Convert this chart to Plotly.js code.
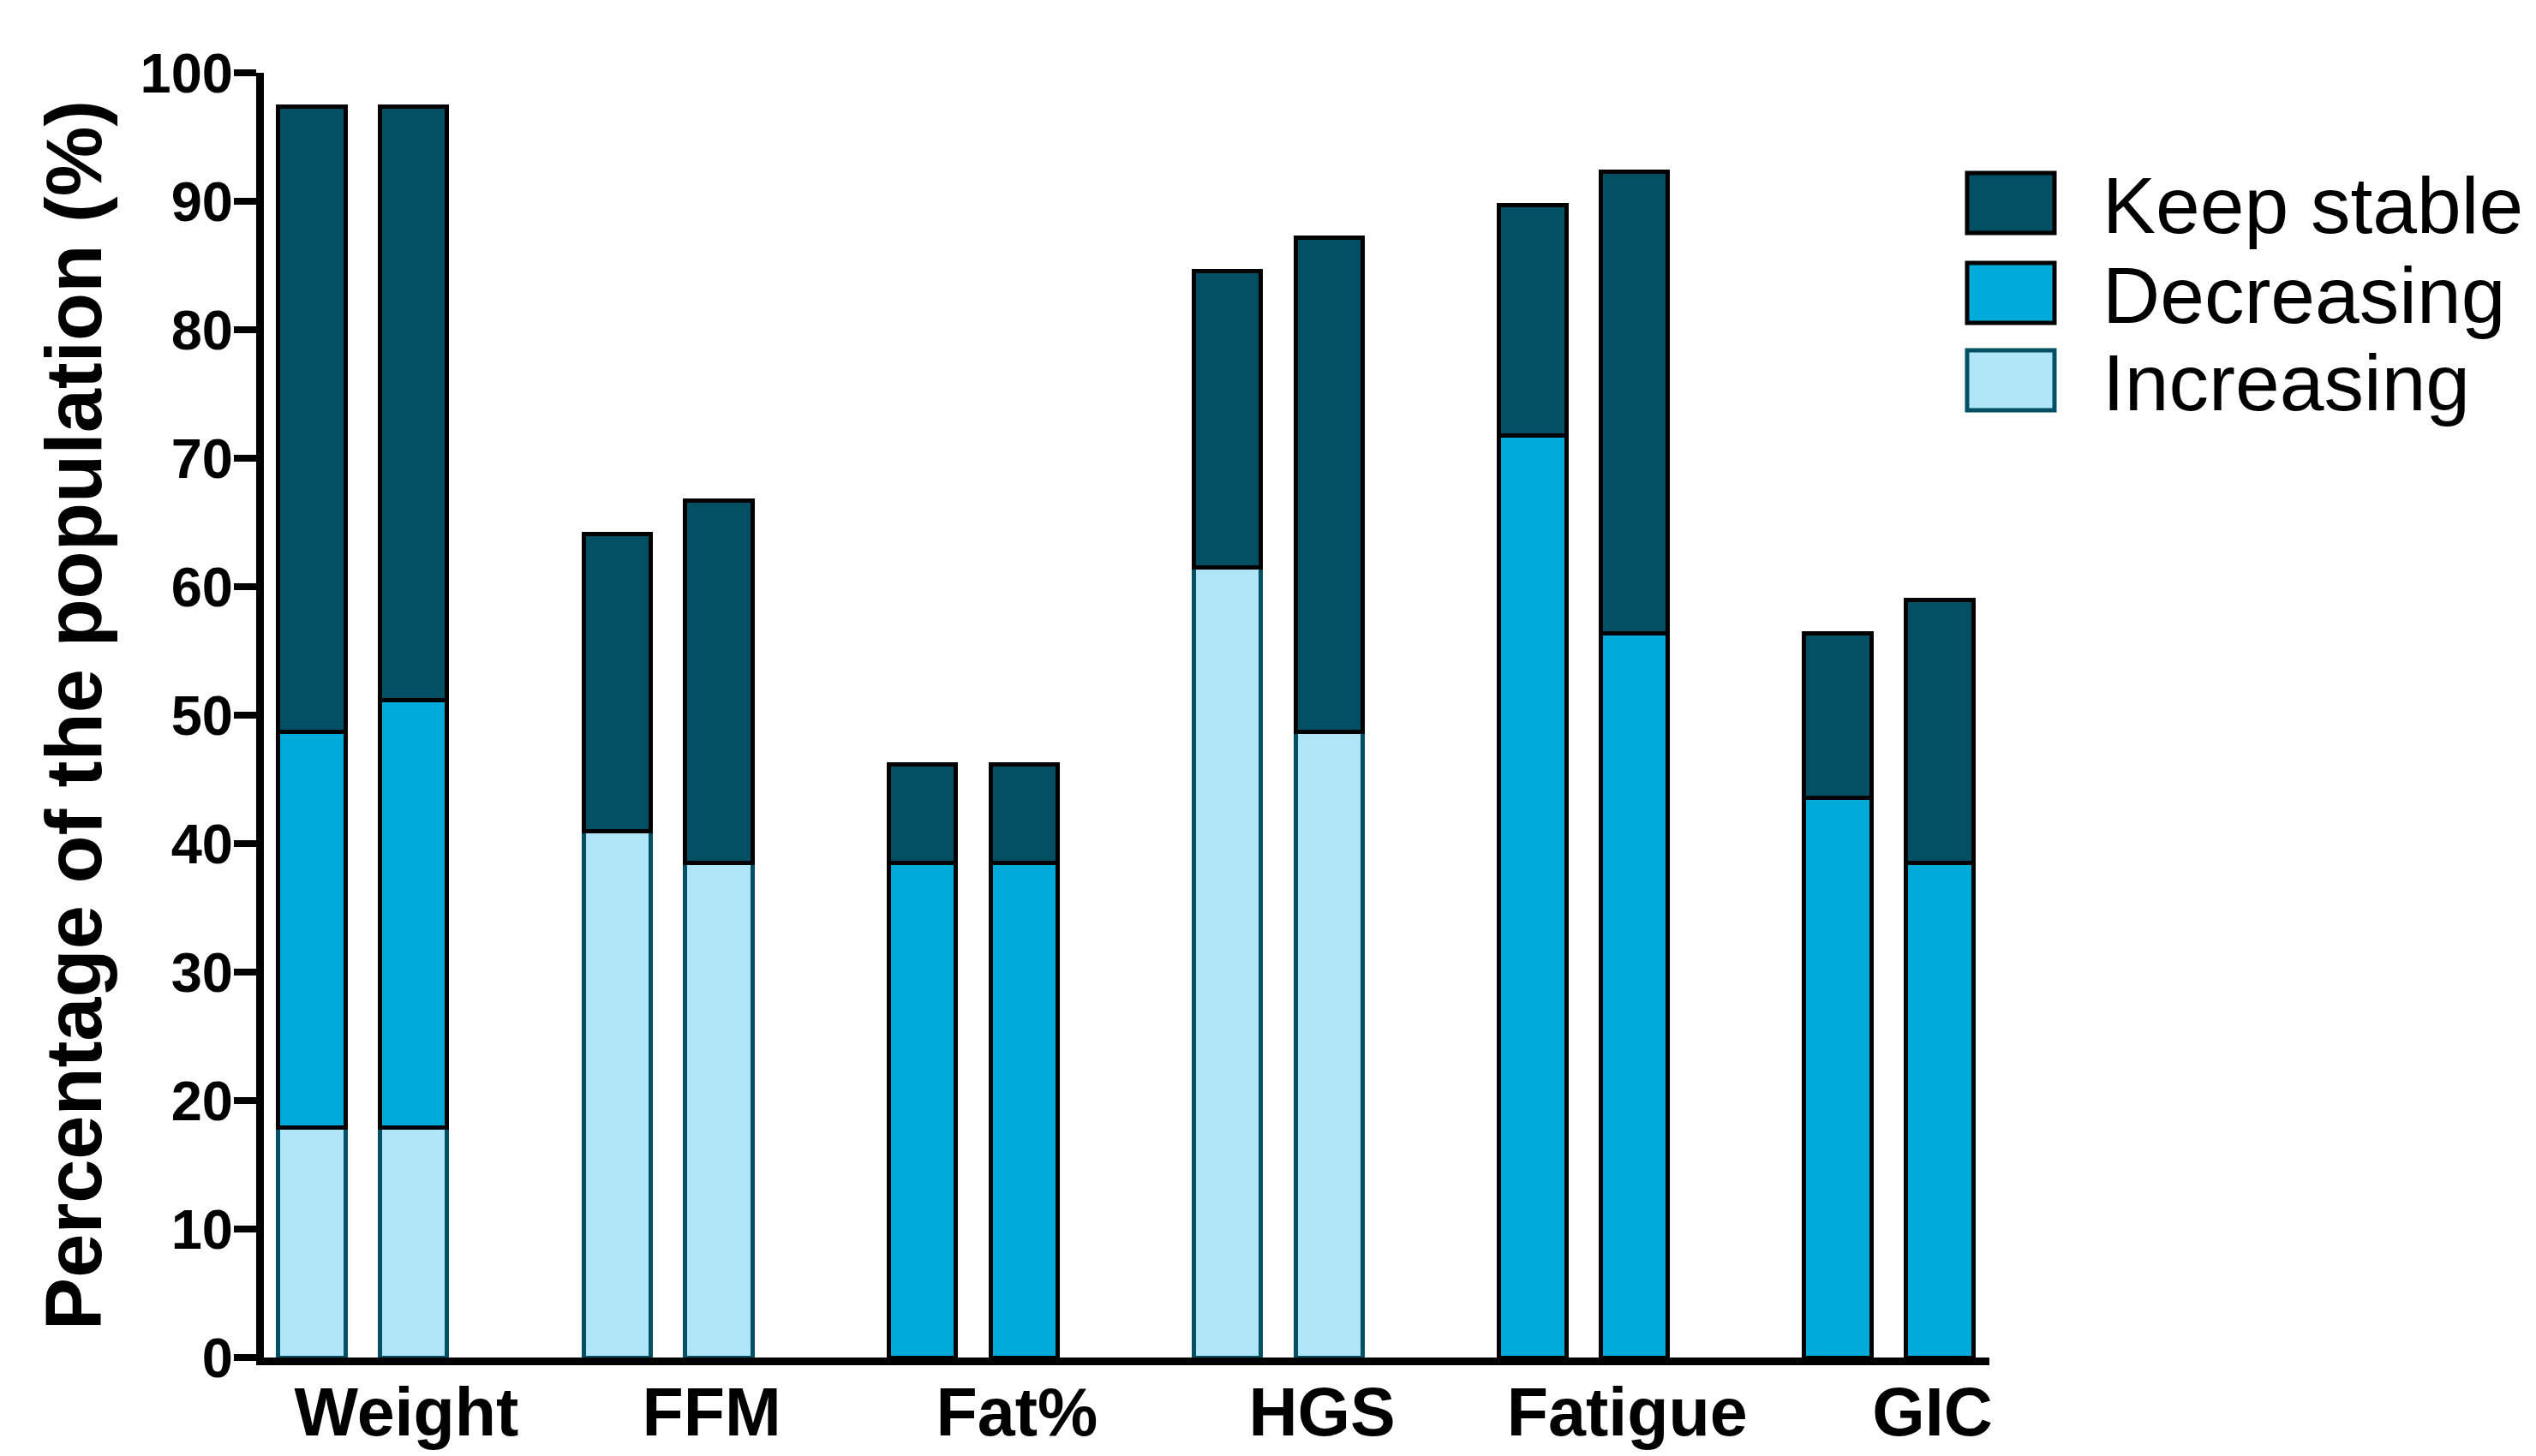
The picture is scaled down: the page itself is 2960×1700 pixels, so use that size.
<!DOCTYPE html>
<html>
<head>
<meta charset="utf-8">
<script src="https://cdn.plot.ly/plotly-3.0.1.min.js"></script>
<style>
  html, body { margin: 0; padding: 0; background: #ffffff; }
  #chart { width: 2960px; height: 1700px; }
</style>
</head>
<body>
<div id="chart"></div>
<script>
// ---- Data (percent of population); two bars per category ----
const categories = ['Weight', 'FFM', 'Fat%', 'HGS', 'Fatigue', 'GIC'];
const seriesNames = ['Keep stable', 'Decreasing', 'Increasing'];

// first bar of each pair
const increasingA = [17.9, 41.0, null, 61.5, null, null];
const decreasingA = [30.8, null, 38.5, null, 71.8, 43.6];
const stableA     = [48.7, 23.1, 7.7, 23.1, 17.9, 12.8];

// second bar of each pair
const increasingB = [17.9, 38.5, null, 48.7, null, null];
const decreasingB = [33.3, null, 38.5, null, 56.4, 38.5];
const stableB     = [46.2, 28.2, 7.7, 38.5, 35.9, 20.5];

const yTicks = [0, 10, 20, 30, 40, 50, 60, 70, 80, 90, 100];

// ---- Styling ----
const colStable = '#034F63';
const colDec = '#00ABDA';
const colInc = '#B0E5F8';
const FONT = 'Arial, "Liberation Sans", Helvetica, sans-serif';

// layout geometry (pixels)
const W = 2960, H = 1700;
const L = 308, R = 638, T = 85, B = 115;
const plotW = W - L - R, plotH = H - T - B;
const groupPitch = 3;

// x positions derived from category index (pair of bars per category)
const xPos = [];
categories.forEach((c, i) => { xPos.push(i * groupPitch, i * groupPitch + 1); });
function interleave(a, b) { const out = []; a.forEach((v, i) => { out.push(v, b[i]); }); return out; }

function barTrace(name, a, b, fill, edge) {
  return {
    type: 'bar', name: name, x: xPos, y: interleave(a, b), width: 0.66,
    marker: { color: fill, line: { color: edge, width: 5 } },
    showlegend: false, hoverinfo: 'x+y+name'
  };
}

const data = [
  barTrace(seriesNames[2], increasingA, increasingB, colInc, colStable),
  barTrace(seriesNames[1], decreasingA, decreasingB, colDec, '#000000'),
  barTrace(seriesNames[0], stableA, stableB, colStable, '#000000')
];

// manual legend (large swatches like the original)
const px2x = p => (p - L) / plotW;
const px2y = p => (H - B - p) / plotH;
const legendRows = [
  { name: seriesNames[0], fill: colStable, edge: '#000000', top: 202 },
  { name: seriesNames[1], fill: colDec, edge: '#000000', top: 307 },
  { name: seriesNames[2], fill: colInc, edge: colStable, top: 409 }
];
const shapes = [], annotations = [];
legendRows.forEach(r => {
  shapes.push({
    type: 'rect', xref: 'paper', yref: 'paper',
    x0: px2x(2296), x1: px2x(2398), y0: px2y(r.top + 70), y1: px2y(r.top),
    fillcolor: r.fill, line: { color: r.edge, width: 5 }
  });
  annotations.push({
    xref: 'paper', yref: 'paper', x: px2x(2452), y: px2y(r.top + 38),
    xanchor: 'left', yanchor: 'middle', showarrow: false, text: r.name,
    font: { family: FONT, size: 93, color: '#000000' }
  });
});

const layout = {
  width: W, height: H,
  margin: { l: L, r: R, t: T, b: B, pad: 0 },
  paper_bgcolor: '#ffffff', plot_bgcolor: '#ffffff',
  barmode: 'stack',
  showlegend: false,
  font: { family: FONT, color: '#000000' },
  xaxis: {
    type: 'linear', range: [-0.472, 16.49],
    tickmode: 'array',
    tickvals: categories.map((c, i) => i * groupPitch + 0.93),
    ticktext: categories,
    ticks: '', showgrid: false, zeroline: false,
    showline: true, linecolor: '#000000', linewidth: 9,
    tickfont: { family: FONT, size: 79, color: '#000000', weight: 'bold' },
    ticklabelstandoff: -13
  },
  yaxis: {
    range: [0, 100], tickmode: 'array', tickvals: yTicks, ticktext: yTicks.map(String),
    ticks: 'outside', ticklen: 26, tickwidth: 8, tickcolor: '#000000',
    showgrid: false, zeroline: false,
    showline: true, linecolor: '#000000', linewidth: 9,
    tickfont: { family: FONT, size: 65, color: '#000000', weight: 'bold' },
    ticklabelstandoff: -12,
    title: {
      text: 'Percentage of the population (%)',
      font: { family: FONT, size: 92, color: '#000000', weight: 'bold' },
      standoff: 18
    }
  },
  shapes: shapes,
  annotations: annotations
};

Plotly.newPlot('chart', data, layout, { staticPlot: true, displayModeBar: false });
</script>
</body>
</html>
